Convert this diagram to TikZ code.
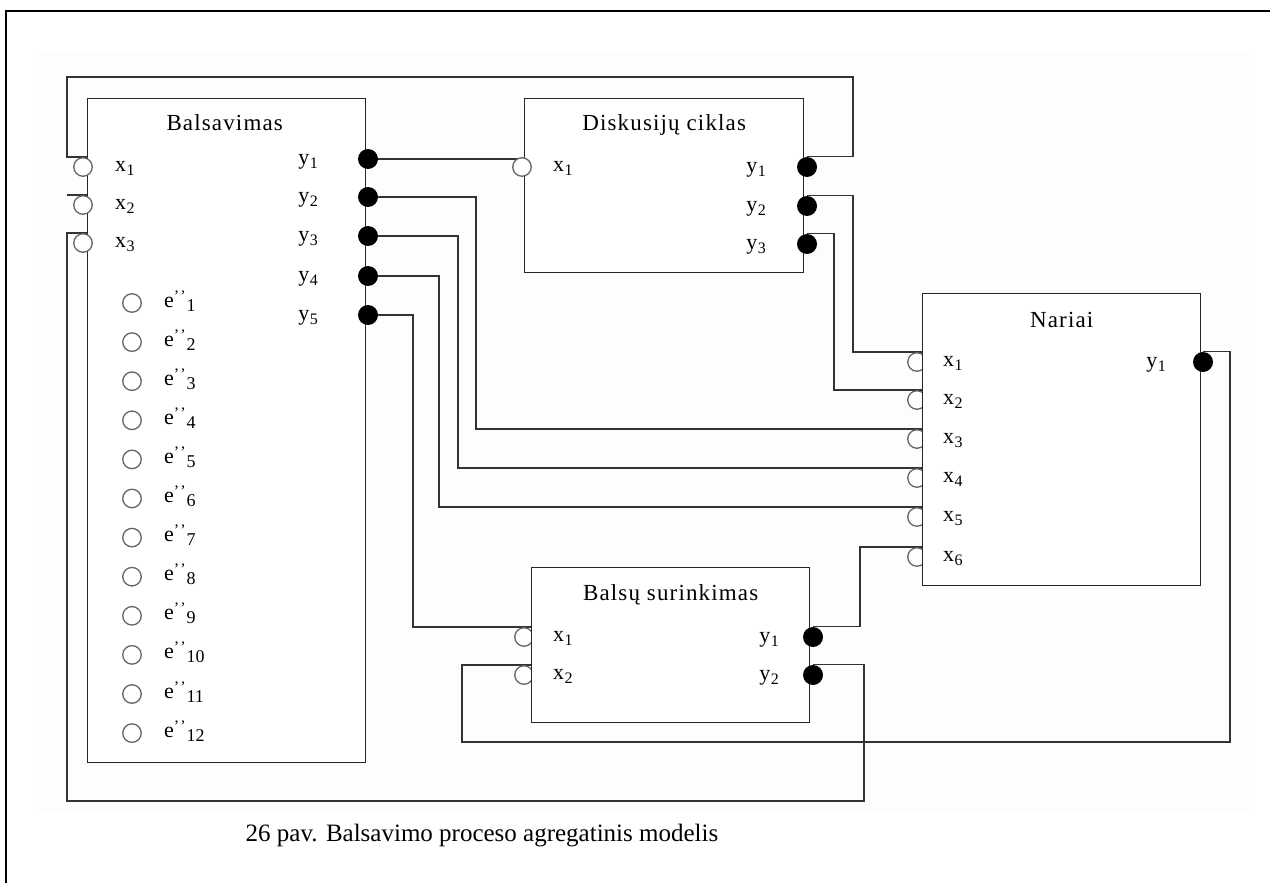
\documentclass[tikz,border=0pt]{standalone}
\usepackage{fontspec}
\setmainfont{Liberation Serif}
\newfontfamily\titlefont{Liberation Serif}[LetterSpace=5]
\usetikzlibrary{calc}

\pgfdeclarelayer{bg}
\pgfdeclarelayer{wires}
\pgfdeclarelayer{cports}
\pgfsetlayers{bg,wires,cports,main}

% e'' label with superscript quotes and lowered index
\newcommand{\epp}[1]{e\raisebox{6pt}{\fontsize{16}{16}\selectfont ’\kern1pt’}\kern1pt\raisebox{-4pt}{\fontsize{18}{18}\selectfont #1}}

\tikzset{
  block/.style={draw=black!85, fill=white, line width=1.4pt, inner sep=0pt, anchor=north west},
  wire/.style={draw=black!80, line width=1.3pt},
  inport/.style={circle, draw=black!60, fill=white, line width=1.3pt, minimum size=18.5pt, inner sep=0pt},
  outport/.style={circle, fill=black, minimum size=20pt, inner sep=0pt},
  heading/.style={font=\titlefont\fontsize{23}{27}\selectfont, anchor=base, inner sep=0pt},
  plabel/.style={font=\fontsize{22}{26}\selectfont, inner sep=0pt},
  xlab/.style={plabel, anchor=base west},
  ylab/.style={plabel, anchor=base east},
}
\newcommand{\idx}[2]{#1\kern0.5pt\raisebox{-4pt}{\fontsize{16}{16}\selectfont #2}}

\begin{document}
\begin{tikzpicture}[x=1pt, y=-1pt]
\useasboundingbox (0,0) rectangle (1270,883);

% page frame and pasted-figure backdrop
\begin{pgfonlayer}{bg}
  \fill[black!0.8] (39,52) rectangle (1249,813);
  \draw[black, line width=1.5pt] (6,883) -- (6,11) -- (1270,11);
\end{pgfonlayer}

% input ports partly hidden behind their blocks
\begin{pgfonlayer}{cports}
  \foreach \n/\y in {1/362,2/400,3/439,4/478,5/517,6/557}
    \node[inport] (nx\n) at (917,\y) {};
  \foreach \n/\y in {1/637,2/675}
    \node[inport] (bsx\n) at (524,\y) {};
\end{pgfonlayer}

% blocks
\node[block, minimum width=278pt, minimum height=664pt] (bal) at (87,98) {};
\node[block, minimum width=279pt, minimum height=174pt] (dis) at (524,98) {};
\node[block, minimum width=278pt, minimum height=292pt] (nar) at (922,293) {};
\node[block, minimum width=278pt, minimum height=155pt] (bsu) at (531,567) {};

\node[heading] (balT) at ($(bal.north)+(-2,33)$) {Balsavimas};
\node[heading] (disT) at ($(dis.north)+(0,32)$) {Diskusijų ciklas};
\node[heading] (narT) at ($(nar.north)+(0,34)$) {Nariai};
\node[heading] (bsuT) at ($(bsu.north)+(0,33)$) {Balsų surinkimas};

% Balsavimas ports
\foreach \n/\y in {1/167,2/205,3/243} {
  \node[inport] (bx\n) at (83,\y) {};
  \node[xlab] (bxl\n) at (115,\y+4) {\idx{x}{\n}};
}
\foreach \n/\y in {1/159,2/197,3/236,4/276,5/315} {
  \node[outport] (by\n) at (368,\y) {};
  \node[ylab] (byl\n) at (318,\y+5) {\idx{y}{\n}};
}
\foreach \k in {1,...,12} {
  \node[inport] (e\k) at (132,{303+39.1*(\k-1)}) {};
  \node[xlab] (el\k) at (164,{307+39.1*(\k-1)}) {\epp{\k}};
}

% Diskusiju ciklas ports
\node[inport] (dx1) at (522,167) {};
\node[xlab] (dxl1) at (553,171) {\idx{x}{1}};
\foreach \n/\y in {1/167,2/206,3/244} {
  \node[outport] (dy\n) at (807,\y) {};
  \node[ylab] (dyl\n) at (766,\y+5) {\idx{y}{\n}};
}

% Nariai ports
\foreach \n/\y in {1/362,2/400,3/439,4/478,5/517,6/557}
  \node[xlab] (nxl\n) at (943,\y+4) {\idx{x}{\n}};
\node[outport] (ny1) at (1203,362) {};
\node[ylab] (nyl1) at (1166,367) {\idx{y}{1}};

% Balsu surinkimas ports
\foreach \n/\y in {1/637,2/675} {
  \node[xlab] (bsxl\n) at (553,\y+4) {\idx{x}{\n}};
  \node[outport] (bsy\n) at (813,\y) {};
  \node[ylab] (bsyl\n) at (779,\y+5) {\idx{y}{\n}};
}

% caption
\node[font=\fontsize{25}{30}\selectfont, anchor=base, inner sep=0pt] (cap) at (482,841)
  {26 pav. Balsavimo proceso agregatinis modelis};

% connections
\begin{pgfonlayer}{wires}
  \draw[wire] (bal.west |- bx1.north) -| (67,77) -| (853,0 |- dy1.north) -- (dy1.north);
  \draw[wire] (bal.west |- bx2.north) -- (67,0 |- bx2.north);
  \draw[wire] (bal.west |- bx3.north) -| (67,801) -| (864,0 |- bsy2.north) -- (bsy2.north);
  \draw[wire] (by1) -- (by1 -| dis.west);
  \draw[wire] (by2) -| (476,0 |- nx3.north) -- (nx3.north -| nar.west);
  \draw[wire] (by3) -| (458,0 |- nx4.north) -- (nx4.north -| nar.west);
  \draw[wire] (by4) -| (439,0 |- nx5.north) -- (nx5.north -| nar.west);
  \draw[wire] (by5) -| (413,0 |- bsx1.north) -- (bsx1.north -| bsu.west);
  \draw[wire] (dy2.north) -| (853,0 |- nx1.north) -- (nx1.north -| nar.west);
  \draw[wire] (dy3.north) -| (834,0 |- nx2.north) -- (nx2.north -| nar.west);
  \draw[wire] (bsy1.north) -| (860,0 |- nx6.north) -- (nx6.north -| nar.west);
  \draw[wire] (bsx2.north -| bsu.west) -| (462,742) -| (1230,0 |- ny1.north) -- (ny1.north);
\end{pgfonlayer}
\end{tikzpicture}
\end{document}
